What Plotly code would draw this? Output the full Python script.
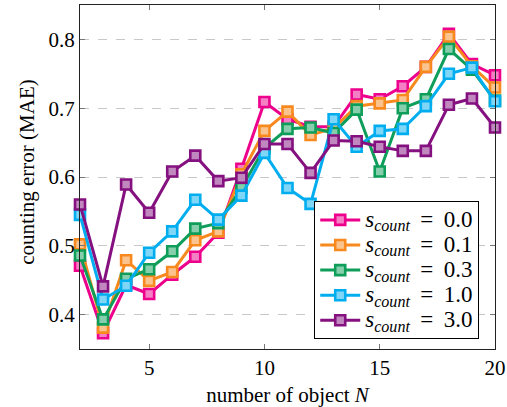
import plotly.graph_objects as go

N = list(range(2, 21))

mae_s00 = [0.471, 0.373, 0.443, 0.430, 0.458, 0.484, 0.519, 0.612, 0.709, 0.684, 0.673, 0.673, 0.720, 0.713, 0.732, 0.760, 0.808, 0.764, 0.748]
mae_s01 = [0.502, 0.381, 0.479, 0.449, 0.462, 0.508, 0.521, 0.604, 0.667, 0.695, 0.661, 0.671, 0.703, 0.707, 0.712, 0.760, 0.804, 0.761, 0.730]
mae_s03 = [0.486, 0.393, 0.452, 0.466, 0.492, 0.525, 0.533, 0.584, 0.642, 0.670, 0.672, 0.664, 0.698, 0.608, 0.700, 0.713, 0.786, 0.756, 0.711]
mae_s10 = [0.545, 0.422, 0.442, 0.490, 0.521, 0.567, 0.538, 0.573, 0.635, 0.584, 0.561, 0.684, 0.644, 0.667, 0.670, 0.703, 0.750, 0.759, 0.710]
mae_s30 = [0.560, 0.441, 0.589, 0.548, 0.608, 0.631, 0.594, 0.599, 0.648, 0.648, 0.606, 0.653, 0.652, 0.644, 0.638, 0.638, 0.705, 0.714, 0.672]

series_names = ["0.0", "0.1", "0.3", "1.0", "3.0"]
series_values = [mae_s00, mae_s01, mae_s03, mae_s10, mae_s30]
colors = ["#EC008C", "#F7891E", "#0E9E5A", "#00AEEF", "#84117F"]
fills = ["#F57FC5", "#FBC48E", "#86CEAC", "#7FD6F7", "#C188BF"]

y_ticks = [0.4, 0.5, 0.6, 0.7, 0.8]
y_labels = ["0.4", "0.5", "0.6", "0.7", "0.8"]
x_ticks = [5, 10, 15, 20]
x_labels = ["5", "10", "15", "20"]

FONT = "Liberation Serif"

fig = go.Figure()
for name, vals, c, f in zip(series_names, series_values, colors, fills):
    fig.add_trace(go.Scatter(
        x=N, y=vals, mode="lines+markers",
        name=(f"<span style='font-size:23px'><i>s</i><sub><i>count</i></sub>"
              f"&nbsp;&#8201;=&nbsp;&#8201;{name}</span>"),
        line=dict(color=c, width=3),
        marker=dict(symbol="square", size=10, color=f, line=dict(color=c, width=2.6)),
        cliponaxis=False,
    ))

axis_common = dict(
    showline=True, linecolor="#222", linewidth=1, mirror="ticks",
    ticks="inside", ticklen=5, tickcolor="#777", tickwidth=1,
    tickfont=dict(family=FONT, size=21, color="black"),
    zeroline=False, automargin=False,
)

fig.update_xaxes(
    range=[2, 20], tickvals=x_ticks, ticktext=x_labels, showgrid=False,
    title=dict(text="number of object <i>N</i>", font=dict(family=FONT, size=21, color="black"), standoff=8),
    **axis_common,
)
fig.update_yaxes(
    range=[0.35, 0.85], tickvals=y_ticks, ticktext=y_labels,
    showgrid=True, gridcolor="#C8C8C8", griddash="dash", gridwidth=1,
    **axis_common,
)

fig.add_annotation(
    text="counting error (MAE)", textangle=-90, xref="paper", yref="paper",
    x=-0.128, y=0.515, xanchor="center", yanchor="middle", showarrow=False,
    font=dict(family=FONT, size=21, color="black"),
)

fig.update_layout(
    width=507, height=407,
    margin=dict(l=80, r=12, t=5, b=58),
    paper_bgcolor="white", plot_bgcolor="white",
    font=dict(family=FONT, size=21, color="black"),
    legend=dict(
        x=0.962, y=0.028, xanchor="right", yanchor="bottom",
        bgcolor="white", bordercolor="black", borderwidth=1,
        font=dict(family=FONT, size=17, color="black"),
        itemwidth=40, tracegroupgap=0,
    ),
    showlegend=True,
)

fig.write_html("out.html")
